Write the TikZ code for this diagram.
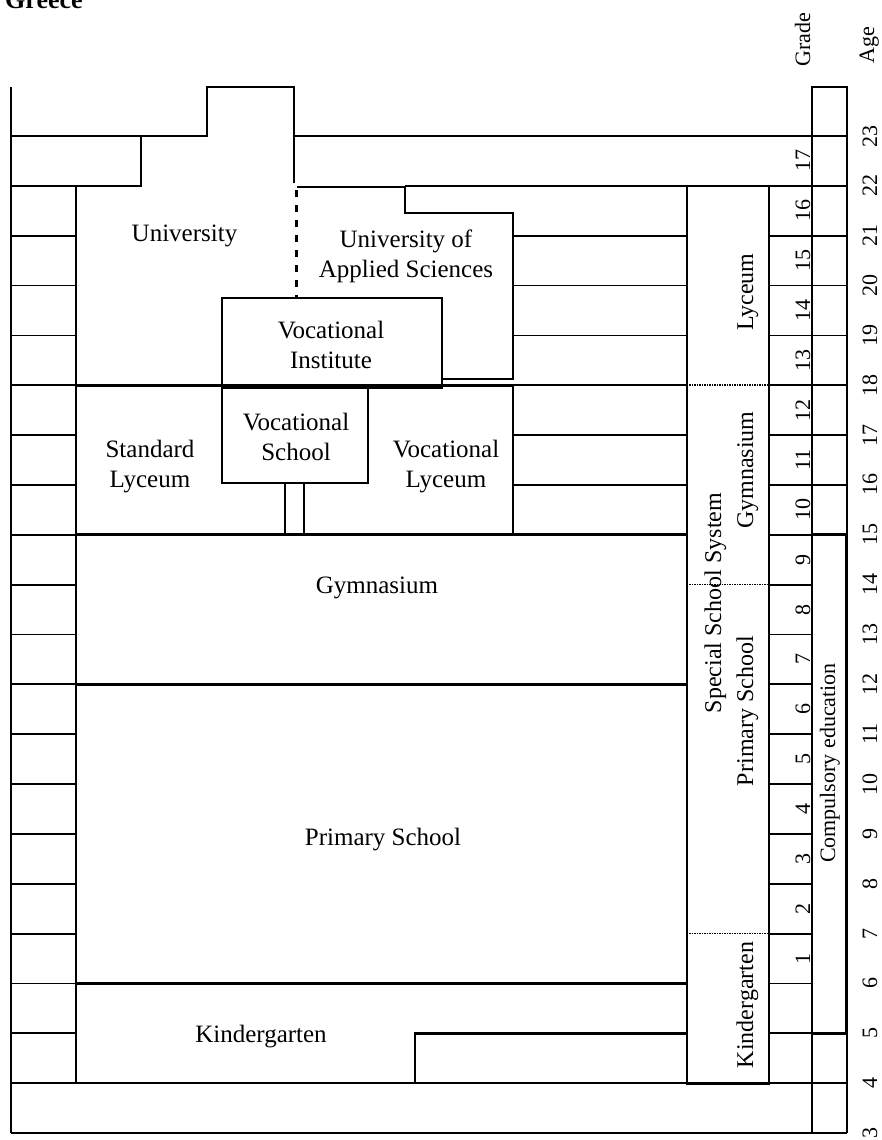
\documentclass[tikz,border=0pt]{standalone}
\usepackage{fontspec}
\setmainfont{Liberation Serif}
\begin{document}
\begin{tikzpicture}[x=1pt,y=-1pt,
 declare function={ay(\a)=136+(23-\a)*49.85;},
 tl/.style={line width=1.8pt},
 bl/.style={line width=2.8pt, line join=miter},
 lbl/.style={font=\fontsize{25}{30}\selectfont, inner sep=0pt, align=center},
 slbl/.style={font=\fontsize{24}{29}\selectfont, inner sep=0pt, rotate=90, anchor=base},
 num/.style={font=\fontsize{22}{26}\selectfont, inner sep=0pt, rotate=90, anchor=base},
]
\useasboundingbox (0,0) rectangle (882,1140);

% title
\node[font=\fontsize{26}{30}\selectfont\bfseries, inner sep=0pt, anchor=base west] (title) at (5,9) {Greece};

% left frame and ticks
\draw[tl] (11,87) -- (11,{ay(3)});
\foreach \a in {5,...,22} \draw[tl] (11,{ay(\a)}) -- (76,{ay(\a)});
\draw[tl] (11,{ay(23)}) -- (141,{ay(23)});
\draw[tl] (294,{ay(23)}) -- (847,{ay(23)});
\draw[tl] (11,{ay(4)}) -- (847,{ay(4)});
\draw[tl] (11,{ay(3)}) -- (847,{ay(3)});

% grid right of institutions
\foreach \a in {16,17,19,20,21} \draw[tl] (513,{ay(\a)}) -- (687,{ay(\a)});
\draw[tl] (442,{ay(18)}) -- (687,{ay(18)});
\draw[tl] (405,{ay(22)}) -- (687,{ay(22)});

% grade and age columns
\foreach \a in {16,...,22} \draw[tl] (769,{ay(\a)}) -- (847,{ay(\a)});
\foreach \a in {6,...,15} \draw[tl] (769,{ay(\a)}) -- (812,{ay(\a)});
\draw[tl] (769,{ay(5)}) -- (847,{ay(5)});
\draw[bl] (812,{ay(3)}) -- (812,87) -- (847,87) -- (847,{ay(3)});

% University staircase
\draw[bl] (76,{ay(18)}) -- (76,186) -- (141,186) -- (141,136) -- (207,136) -- (207,87) -- (294,87) -- (294,183);
\draw[bl] (76,186) -- (76,{ay(4)});
\draw[line width=3pt, dash pattern=on 7pt off 8pt] (296,190) -- (296,298);

% University of Applied Sciences
\draw[bl] (297,187) -- (405,187) -- (405,213) -- (513,213) -- (513,379) -- (442,379);

% Vocational Institute and School
\draw[bl] (222,298) rectangle (442,388);
\draw[bl] (222,388) rectangle (368,483);
\draw[bl] (285,483) -- (285,{ay(15)});
\draw[bl] (304,483) -- (304,{ay(15)});
\draw[bl] (283.6,483) -- (305.4,483);

% Lyceum block, Gymnasium, Primary, Kindergarten
\draw[bl] (76,{ay(18)}) rectangle (513,{ay(15)});
\draw[bl] (76,{ay(15)}) rectangle (687,{ay(12)});
\draw[bl] (76,{ay(12)}) rectangle (687,{ay(6)});
\draw[bl] (76,{ay(6)}) -- (687,{ay(6)}) -- (687,{ay(5)}) -- (415,{ay(5)}) -- (415,{ay(4)});

% Special school system column
\draw[bl] (687,186) rectangle (769,{ay(4)});
\foreach \a in {18,14,7} \draw[line width=1.6pt, dash pattern=on 1.5pt off 1pt] (689,{ay(\a)}) -- (767,{ay(\a)});

% Compulsory education box
\draw[bl] (812,{ay(15)}) rectangle (846,{ay(5)});

% labels
\node[lbl, anchor=base] (univ) at (184.5,241) {University};
\node[lbl] (uas) at (406,256.3) {University of\\Applied Sciences};
\node[lbl] (vinst) at (331,344.7) {Vocational\\Institute};
\node[lbl] (vsch) at (296,436.7) {Vocational\\School};
\node[lbl] (stdlyc) at (150,466.3) {Standard\\Lyceum};
\node[lbl] (voclyc) at (446,466.3) {Vocational\\Lyceum};
\node[lbl, anchor=base] (gym) at (377,593) {Gymnasium};
\node[lbl, anchor=base] (prim) at (383,845) {Primary School};
\node[lbl, anchor=base] (kind) at (261,1042) {Kindergarten};

\node[slbl] (slyc) at (753,292) {Lyceum};
\node[slbl] (sgym) at (753,470) {Gymnasium};
\node[slbl] (ssys) at (721,603) {Special School System};
\node[slbl] (sprim) at (753,711) {Primary School};
\node[slbl] (skind) at (753,1005) {Kindergarten};
\node[num] (comp) at (835,763) {Compulsory education};

\node[num] (gradeh) at (810,40) {Grade};
\node[num] (ageh) at (874,45) {Age};
\foreach \g in {1,...,17} \node[num] (g\g) at (810,{ay(\g+5)-24.925}) {\g};
\foreach \a in {3,...,23} \node[num] (a\a) at (877,{ay(\a)}) {\a};
\end{tikzpicture}
\end{document}
